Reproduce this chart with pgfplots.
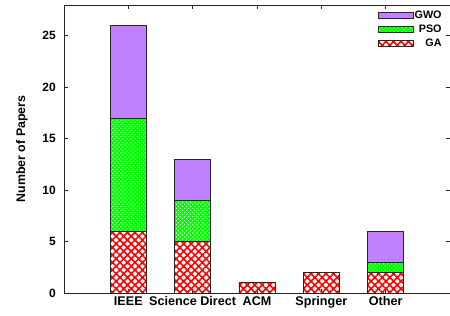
\documentclass[border=0pt]{standalone}
\usepackage{fontspec}
\setmainfont{Liberation Sans}
\usepackage{pgfplots}
\pgfplotsset{compat=1.18}
\usetikzlibrary{patterns.meta}
\definecolor{gwo}{HTML}{C080FF}
\definecolor{pso}{HTML}{00FF00}
\definecolor{ga}{HTML}{FF0000}
\definecolor{edge}{HTML}{262626}
\begin{document}
\begin{tikzpicture}
\begin{axis}[
  scale only axis, width=386pt, height=288pt,
  ybar stacked, bar width=0.56,
  xmin=0, xmax=6, ymin=0, ymax=28,
  xtick={1,2,3,4,5},
  xticklabels={IEEE,Science Direct,ACM,Springer,Other},
  ytick={0,5,10,15,20,25},
  tick align=inside, major tick length=4pt,
  x tick label style={font=\fontsize{12.6}{14}\selectfont\bfseries},
  y tick label style={font=\fontsize{12}{14}\selectfont\bfseries, anchor=east, inner sep=0pt, xshift=-8pt},
  /pgf/number format/assume math mode=true,
  ylabel={Number of Papers},
  ylabel style={font=\fontsize{12.4}{14}\selectfont\bfseries, at={(axis description cs:-0.109,0.5)}, anchor=center},
  axis line style={edge, line width=0.9pt},
  every tick/.style={edge, line width=0.8pt},
  reverse legend,
  legend cell align=right,
  legend image code/.code={\draw[#1] (0pt,-3.2pt) rectangle (35pt,3.2pt);},
  legend style={at={(rel axis cs:1,1)}, anchor=north east, xshift=-7pt, yshift=-4.5pt,
    draw=none, fill=none, font=\fontsize{10.8}{12}\selectfont\bfseries,
    nodes={inner sep=1.2pt}, inner sep=0pt, row sep=2.6pt, column sep=0pt},
]
\addplot[draw=edge, line width=0.8pt, fill=white,
  pattern={Hatch[angle=45, distance=5.3pt, line width=1.6pt]}, pattern color=ga]
  coordinates {(1,6) (2,5) (3,1) (4,2) (5,2)};
\addlegendentry{GA}
\addplot[draw=edge, line width=0.8pt, fill=pso,
  postaction={pattern={Dots[angle=45, distance=2.9pt, radius=0.75pt]}, pattern color=white}]
  coordinates {(1,11) (2,4) (3,0) (4,0) (5,1)};
\addlegendentry{PSO}
\addplot[draw=edge, line width=0.8pt, fill=gwo]
  coordinates {(1,9) (2,4) (3,0) (4,0) (5,3)};
\addlegendentry{GWO}
\coordinate (O) at (rel axis cs:0,0);
\coordinate (E) at (rel axis cs:1,1);
\end{axis}
\pgfresetboundingbox
\path[use as bounding box] ([shift={(-64pt,-22pt)}]O) rectangle ([shift={(0pt,5pt)}]E);
\end{tikzpicture}
\end{document}
